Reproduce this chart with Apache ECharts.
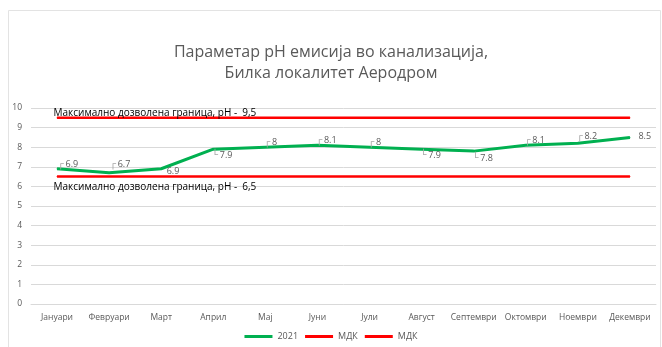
<!DOCTYPE html>
<html>
<head>
<meta charset="utf-8">
<script src="https://cdn.jsdelivr.net/npm/echarts@6/dist/echarts.min.js"></script>
<style>
  html, body { margin: 0; padding: 0; background: #fff; }
  #chart { width: 662px; height: 347px; }
</style>
</head>
<body>
<div id="chart"></div>
<script>
// Monthly pH readings and the allowed limits
const months = ['Јануари', 'Февруари', 'Март', 'Април', 'Мај', 'Јуни', 'Јули', 'Август', 'Септември', 'Октомври', 'Ноември', 'Декември'];
const ph2021 = [6.9, 6.7, 6.9, 7.9, 8, 8.1, 8, 7.9, 7.8, 8.1, 8.2, 8.5];
const limitMax = [9.5, 9.5, 9.5, 9.5, 9.5, 9.5, 9.5, 9.5, 9.5, 9.5, 9.5, 9.5];
const limitMin = [6.5, 6.5, 6.5, 6.5, 6.5, 6.5, 6.5, 6.5, 6.5, 6.5, 6.5, 6.5];
const yTicks = [0, 1, 2, 3, 4, 5, 6, 7, 8, 9, 10];
const limitMaxText = 'Максимално дозволена граница, рН -  9,5';
const limitMinText = 'Максимално дозволена граница, рН -  6,5';

const FONT = '"Open Sans", "Noto Sans", sans-serif';
const GREY = '#595959';

// Callout placement of each value label: [dx, dy, leader style]
const labelPlace = [
  [1, -4, 'top'], [1, -8, 'top'], [6, 3, ''], [-1, 7, 'bot'],
  [-1, -4, 'top'], [-1, -4, 'top'], [-1, -4, 'top'], [-1, 7, 'bot'],
  [-1, 8, 'bot'], [-1, -4, 'top'], [-1, -6, 'top'], [9, 0, '']
];

const phData = ph2021.map((v, i) => {
  const [dx, dy, kind] = labelPlace[i];
  const lead = kind === 'top' ? '{g|┌}' : kind === 'bot' ? '{g|└}' : '';
  return {
    value: v,
    label: {
      show: true,
      position: [dx, dy],
      align: 'left',
      verticalAlign: 'middle',
      formatter: lead + '{v|' + v + '}'
    }
  };
});

function limitData(arr, text, dy) {
  return arr.map((v, i) => i === 0 ? {
    value: v,
    label: {
      show: true,
      position: [-3, dy],
      align: 'left',
      verticalAlign: 'middle',
      formatter: text,
      color: '#000',
      fontSize: 10,
      fontFamily: FONT
    }
  } : v);
}

const chart = echarts.init(document.getElementById('chart'), null, { renderer: 'canvas' });

chart.setOption({
  animation: false,
  backgroundColor: '#fff',
  graphic: [{
    type: 'rect',
    shape: { x: 8.5, y: 10.5, width: 652, height: 345 },
    style: { fill: 'none', stroke: '#e3e3e3', lineWidth: 1 },
    silent: true
  }],
  title: {
    text: 'Параметар рН емисија во канализација,\nБилка локалитет Аеродром',
    left: 'center',
    top: 37,
    textStyle: { fontFamily: FONT, fontSize: 16, fontWeight: 'normal', color: GREY, lineHeight: 21 }
  },
  legend: {
    top: 327,
    left: 'center',
    icon: 'rect',
    itemWidth: 28,
    itemHeight: 3,
    itemGap: 7,
    textStyle: { fontFamily: FONT, fontSize: 9, color: GREY },
    formatter: name => name.indexOf('МДК') === 0 ? 'МДК' : name,
    data: ['2021', 'МДК 9,5', 'МДК 6,5']
  },
  grid: { left: 31, right: 6, top: 108, bottom: 43 },
  xAxis: {
    type: 'category',
    data: months,
    boundaryGap: true,
    axisLine: { lineStyle: { color: '#d9d9d9' } },
    axisTick: { show: false },
    axisLabel: { fontFamily: FONT, fontSize: 8.5, color: GREY, margin: 9, interval: 0 }
  },
  yAxis: {
    type: 'value',
    min: yTicks[0],
    max: yTicks[yTicks.length - 1],
    interval: 1,
    axisLine: { show: false },
    axisTick: { show: false },
    axisLabel: { fontFamily: FONT, fontSize: 8.5, color: GREY, margin: 9 },
    splitLine: { lineStyle: { color: '#d9d9d9' } }
  },
  series: [
    {
      name: '2021',
      type: 'line',
      data: phData,
      symbol: 'circle',
      symbolSize: 1,
      showSymbol: true,
      itemStyle: { color: '#00b050' },
      lineStyle: { color: '#00b050', width: 3 },
      label: {
        rich: {
          g: { fontFamily: '"DejaVu Sans"', fontSize: 10, color: '#a6a6a6', padding: [0, 2, 0, 0] },
          v: { fontFamily: FONT, fontSize: 9, color: GREY }
        }
      },
      z: 5
    },
    {
      name: 'МДК 9,5',
      type: 'line',
      data: limitData(limitMax, limitMaxText, -4),
      symbol: 'circle',
      symbolSize: 1,
      itemStyle: { color: '#ff0000' },
      lineStyle: { color: '#ff0000', width: 2.5 }
    },
    {
      name: 'МДК 6,5',
      type: 'line',
      data: limitData(limitMin, limitMinText, 11),
      symbol: 'circle',
      symbolSize: 1,
      itemStyle: { color: '#ff0000' },
      lineStyle: { color: '#ff0000', width: 2.5 }
    }
  ]
});
</script>
</body>
</html>
